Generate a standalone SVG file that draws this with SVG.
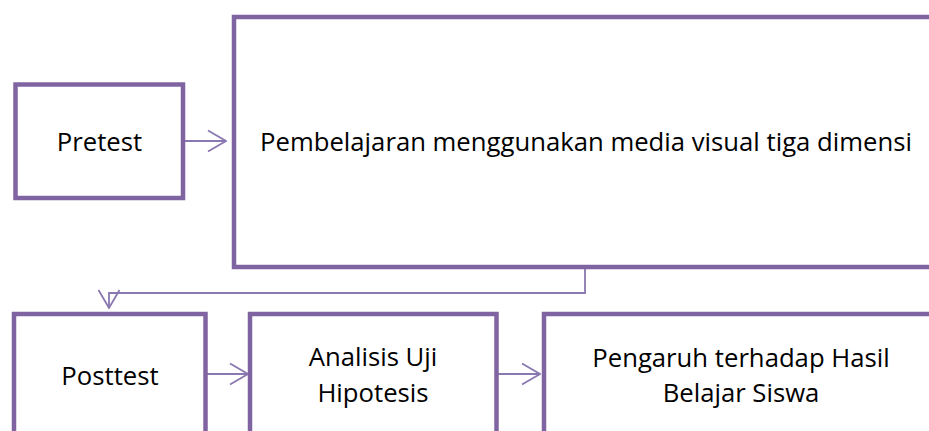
<svg xmlns="http://www.w3.org/2000/svg" width="929" height="431" viewBox="0 0 929 431">
<style>
.box{fill:#ffffff;stroke:#8064a2;stroke-width:4.5}
.lbl{font-family:"Open Sans","Liberation Sans",sans-serif;font-size:25.7px;fill:#000000;text-anchor:middle}
.conn{fill:none;stroke:#8a78b0;stroke-width:1.8}
</style>
<defs>
<marker id="arr" viewBox="0 0 20 24" refX="19" refY="12" markerWidth="20" markerHeight="24" markerUnits="userSpaceOnUse" orient="auto">
<path d="M1,1.5 L19,12 L1,22.5" fill="none" stroke="#8a78b0" stroke-width="1.8"/>
</marker>
</defs>
<rect width="929" height="431" fill="#ffffff"/>
<g id="connectors">
<line class="conn" x1="185" y1="141" x2="226" y2="141" marker-end="url(#arr)"/>
<polyline class="conn" points="585,269 585,293 109,293 109,308" marker-end="url(#arr)"/>
<line class="conn" x1="207" y1="374" x2="248" y2="374" marker-end="url(#arr)"/>
<line class="conn" x1="498" y1="374" x2="540" y2="374" marker-end="url(#arr)"/>
</g>
<g id="pretest">
<rect class="box" x="15.5" y="84.5" width="167.5" height="113.5"/>
<text class="lbl" x="99.5" y="151">Pretest</text>
</g>
<g id="pembelajaran">
<rect class="box" x="234" y="17" width="710" height="250"/>
<text class="lbl" x="586" y="151">Pembelajaran menggunakan media visual tiga dimensi</text>
</g>
<g id="posttest">
<rect class="box" x="14" y="314" width="191.5" height="140"/>
<text class="lbl" x="110" y="385">Posttest</text>
</g>
<g id="analisis">
<rect class="box" x="250" y="314" width="246.5" height="140"/>
<text class="lbl" x="373" y="366">Analisis Uji</text>
<text class="lbl" x="373" y="402">Hipotesis</text>
</g>
<g id="pengaruh">
<rect class="box" x="544" y="314" width="400" height="140"/>
<text class="lbl" x="741" y="367">Pengaruh terhadap Hasil</text>
<text class="lbl" x="741" y="402">Belajar Siswa</text>
</g>
</svg>
